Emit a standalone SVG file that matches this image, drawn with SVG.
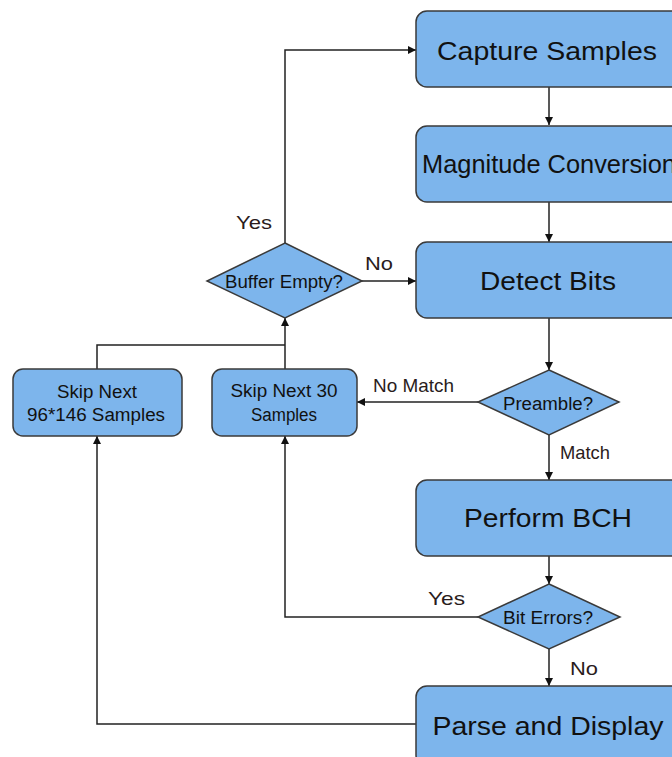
<svg xmlns="http://www.w3.org/2000/svg" width="672" height="757" viewBox="0 0 672 757">
  <style>
    .node { fill: #7db5ec; stroke: #3a3a3a; stroke-width: 1.5; }
    .big { font-family: "Liberation Sans", Arial, sans-serif; font-size: 25px; fill: #111; text-anchor: middle; }
    .small { font-family: "Liberation Sans", Arial, sans-serif; font-size: 18px; fill: #111; text-anchor: middle; }
    .label { font-family: "Liberation Sans", Arial, sans-serif; font-size: 19px; fill: #2a1c1c; }
    .edge { fill: none; stroke: #222; stroke-width: 1.5; }
  </style>
  <defs>
    <marker id="arrow" viewBox="0 0 10 10" refX="10" refY="5" markerWidth="8" markerHeight="8" markerUnits="userSpaceOnUse" orient="auto">
      <path d="M0,0 L10,5 L0,10 Z" fill="#111"/>
    </marker>
  </defs>

  <rect width="672" height="757" fill="#ffffff"/>

  <g id="connectors">
    <path class="edge" d="M285,243 V50 H416" marker-end="url(#arrow)"/>
    <path class="edge" d="M362,281 H416" marker-end="url(#arrow)"/>
    <path class="edge" d="M549,87 V125" marker-end="url(#arrow)"/>
    <path class="edge" d="M549,202 V242" marker-end="url(#arrow)"/>
    <path class="edge" d="M549,318 V370" marker-end="url(#arrow)"/>
    <path class="edge" d="M478,402 H357" marker-end="url(#arrow)"/>
    <path class="edge" d="M549,435 V480" marker-end="url(#arrow)"/>
    <path class="edge" d="M549,556 V584" marker-end="url(#arrow)"/>
    <path class="edge" d="M549,649 V686" marker-end="url(#arrow)"/>
    <path class="edge" d="M478,617 H285 V436" marker-end="url(#arrow)"/>
    <path class="edge" d="M416,724 H97 V436" marker-end="url(#arrow)"/>
    <path class="edge" d="M97,369 V345 H285"/>
    <path class="edge" d="M285,369 V318" marker-end="url(#arrow)"/>
    <text class="label" x="236" y="229" textLength="36" lengthAdjust="spacingAndGlyphs">Yes</text>
    <text class="label" x="365" y="270" textLength="28" lengthAdjust="spacingAndGlyphs">No</text>
    <text class="label" x="373" y="392" textLength="81" lengthAdjust="spacingAndGlyphs">No Match</text>
    <text class="label" x="560" y="459" textLength="50" lengthAdjust="spacingAndGlyphs">Match</text>
    <text class="label" x="428" y="605" textLength="37" lengthAdjust="spacingAndGlyphs">Yes</text>
    <text class="label" x="570" y="675" textLength="28" lengthAdjust="spacingAndGlyphs">No</text>
  </g>

  <g id="capture-samples">
    <rect class="node" x="416" y="11" width="266" height="76" rx="11"/>
    <text class="big" x="547" y="60" textLength="220" lengthAdjust="spacingAndGlyphs">Capture Samples</text>
  </g>

  <g id="magnitude-conversion">
    <rect class="node" x="416" y="126" width="266" height="76" rx="11"/>
    <text class="big" x="549" y="173" font-size="23" textLength="254" lengthAdjust="spacingAndGlyphs">Magnitude Conversion</text>
  </g>

  <g id="detect-bits">
    <rect class="node" x="416" y="242" width="266" height="76" rx="11"/>
    <text class="big" x="548" y="290" textLength="136" lengthAdjust="spacingAndGlyphs">Detect Bits</text>
  </g>

  <g id="buffer-empty">
    <polygon class="node" points="285,243 362,281 285,318 207,281"/>
    <text class="small" x="284" y="288" textLength="118" lengthAdjust="spacingAndGlyphs">Buffer Empty?</text>
  </g>

  <g id="preamble">
    <polygon class="node" points="549,370 619,402 549,435 478,402"/>
    <text class="small" x="548" y="410" textLength="90" lengthAdjust="spacingAndGlyphs">Preamble?</text>
  </g>

  <g id="skip-30">
    <rect class="node" x="212" y="369" width="145" height="67" rx="10"/>
    <text class="small" x="284" y="397" textLength="107" lengthAdjust="spacingAndGlyphs">Skip Next 30</text>
    <text class="small" x="284" y="421" textLength="66" lengthAdjust="spacingAndGlyphs">Samples</text>
  </g>

  <g id="skip-96x146">
    <rect class="node" x="13" y="369" width="169" height="67" rx="10"/>
    <text class="small" x="97" y="398" textLength="80" lengthAdjust="spacingAndGlyphs">Skip Next</text>
    <text class="small" x="96" y="421" textLength="138" lengthAdjust="spacingAndGlyphs">96*146 Samples</text>
  </g>

  <g id="perform-bch">
    <rect class="node" x="416" y="480" width="266" height="76" rx="11"/>
    <text class="big" x="548" y="527" textLength="168" lengthAdjust="spacingAndGlyphs">Perform BCH</text>
  </g>

  <g id="bit-errors">
    <polygon class="node" points="549,584 620,617 549,649 478,617"/>
    <text class="small" x="548" y="624" textLength="90" lengthAdjust="spacingAndGlyphs">Bit Errors?</text>
  </g>

  <g id="parse-display">
    <rect class="node" x="416" y="686" width="266" height="80" rx="11"/>
    <text class="big" x="548" y="735" textLength="231" lengthAdjust="spacingAndGlyphs">Parse and Display</text>
  </g>
</svg>
